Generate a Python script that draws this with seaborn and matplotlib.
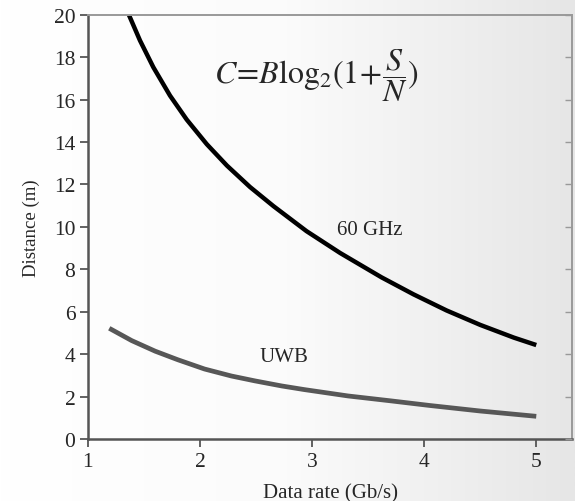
import numpy as np
import pandas as pd
import matplotlib
matplotlib.use("Agg")
import matplotlib.pyplot as plt
import seaborn as sns

# Data
ghz_rate = [1.365, 1.464, 1.583, 1.732, 1.881, 2.06, 2.24, 2.446, 2.655, 2.95,
            3.25, 3.62, 3.905, 4.2, 4.5, 4.8, 5.0]
ghz_dist = [20.0, 18.79, 17.53, 16.19, 15.06, 13.90, 12.89, 11.88, 10.98, 9.80,
            8.77, 7.62, 6.82, 6.06, 5.38, 4.78, 4.43]
uwb_rate = [1.19, 1.39, 1.60, 1.80, 2.04, 2.28, 2.49, 2.73, 2.93, 3.32, 3.70,
            4.05, 4.50, 5.0]
uwb_dist = [5.22, 4.64, 4.14, 3.74, 3.30, 2.97, 2.74, 2.50, 2.33, 2.03, 1.80,
            1.58, 1.32, 1.07]
x_ticks = [1, 2, 3, 4, 5]
y_ticks = [0, 2, 4, 6, 8, 10, 12, 14, 16, 18, 20]

sns.set_theme(style="ticks")
plt.rcParams['font.family'] = ['Liberation Serif', 'DejaVu Serif']
plt.rcParams['mathtext.fontset'] = 'stix'

fig = plt.figure(figsize=(5.75, 5.02), dpi=100)

# background gradient
bg = fig.add_axes([0, 0, 1, 1], zorder=-10)
grad = np.linspace(0, 1, 256)[None, :]
bg.imshow(grad, aspect='auto', cmap=matplotlib.colors.LinearSegmentedColormap.from_list(
    'g', ['#ffffff', '#fbfbfb', '#e6e6e6']), extent=[0, 1, 0, 1])
bg.axis('off')

ax = fig.add_axes([0.153, 0.1235, 0.842, 0.845])
ax.patch.set_alpha(0)

df_g = pd.DataFrame({'rate': ghz_rate, 'dist': ghz_dist})
df_u = pd.DataFrame({'rate': uwb_rate, 'dist': uwb_dist})
sns.lineplot(data=df_g, x='rate', y='dist', ax=ax, color='black', lw=3.2,
             sort=True, solid_capstyle='butt', solid_joinstyle='round')
sns.lineplot(data=df_u, x='rate', y='dist', ax=ax, color='#575757', lw=3.4,
             sort=True, solid_capstyle='butt', solid_joinstyle='round')

ax.set_xlim(1, 5.32)
ax.set_ylim(0, 20)
ax.set_xticks(x_ticks)
ax.set_yticks(y_ticks)
ax.set_xlabel('Data rate (Gb/s)', fontsize=15, labelpad=9)
ax.set_ylabel('Distance (m)', fontsize=13.5, labelpad=10)
ax.tick_params(axis='both', labelsize=15.5, direction='out', length=6,
               width=1.3, color='#555555', pad=3)

for s in ['left', 'bottom']:
    ax.spines[s].set_color('#555555')
    ax.spines[s].set_linewidth(1.8)
for s in ['top', 'right']:
    ax.spines[s].set_visible(True)
    ax.spines[s].set_color('#999999')
    ax.spines[s].set_linewidth(1.4)

ax2 = ax.twinx()
ax2.set_ylim(0, 20)
ax2.set_yticks(y_ticks)
ax2.tick_params(axis='y', direction='in', length=5, width=1, color='#999999',
                labelright=False)
for s in ax2.spines.values():
    s.set_visible(False)

ax.text(3.04, 17.2, r'$C\!=\!B\mathrm{log}_2(1\!+\!\dfrac{S}{N})$', fontsize=23,
        ha='center', va='center')
ax.text(3.51, 9.9, '60 GHz', fontsize=15, ha='center', va='center')
ax.text(2.75, 3.87, 'UWB', fontsize=15, ha='center', va='center')

fig.savefig('out.png', dpi=100)
